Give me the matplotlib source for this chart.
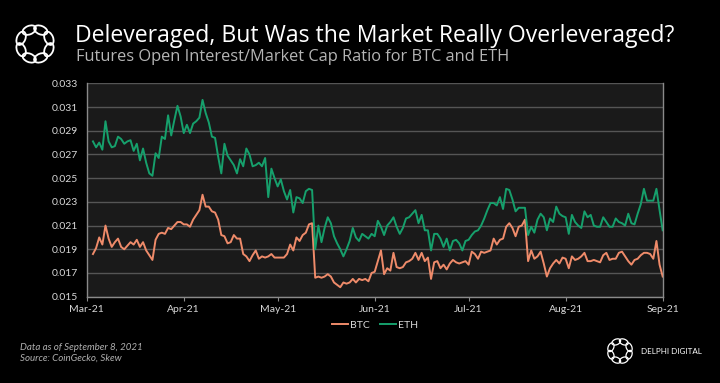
import matplotlib
matplotlib.use("Agg")
import matplotlib.pyplot as plt
import matplotlib.dates as mdates
from matplotlib.patches import Ellipse
import numpy as np
import pandas as pd

start_date = "2021-03-03"
end_date = "2021-09-01"

eth = [
    0.0281, 0.0276, 0.0280, 0.0274, 0.0298, 0.0281, 0.0276, 0.0277, 0.0285, 0.0283,
    0.0279, 0.0281, 0.0282, 0.0273, 0.0279, 0.0265, 0.0275, 0.0263, 0.0254, 0.0252,
    0.0271, 0.0267, 0.0285, 0.0283, 0.0303, 0.0286, 0.0299, 0.0311, 0.0302, 0.0288,
    0.0295, 0.0288, 0.0296, 0.0298, 0.0301, 0.0316, 0.0305, 0.0297, 0.0285, 0.0284,
    0.0268, 0.0254, 0.0279, 0.0269, 0.0265, 0.0261, 0.0254, 0.0266, 0.0260, 0.0275,
    0.0270, 0.0260, 0.0261, 0.0263, 0.0260, 0.0267, 0.0234, 0.0258, 0.0250, 0.0243,
    0.0249, 0.0239, 0.0232, 0.0240, 0.0221, 0.0234, 0.0233, 0.0229, 0.0239, 0.0241,
    0.0240, 0.0190, 0.0210, 0.0196, 0.0208, 0.0217, 0.0212, 0.0201, 0.0195, 0.0190,
    0.0184, 0.0190, 0.0197, 0.0208, 0.0200, 0.0197, 0.0203, 0.0201, 0.0199, 0.0203,
    0.0201, 0.0214, 0.0209, 0.0202, 0.0210, 0.0213, 0.0217, 0.0209, 0.0203, 0.0208,
    0.0216, 0.0217, 0.0220, 0.0223, 0.0212, 0.0219, 0.0206, 0.0206, 0.0189, 0.0203,
    0.0203, 0.0199, 0.0192, 0.0199, 0.0189, 0.0197, 0.0198, 0.0195, 0.0189, 0.0197,
    0.0198, 0.0202, 0.0205, 0.0206, 0.0210, 0.0216, 0.0223, 0.0229, 0.0229, 0.0227,
    0.0234, 0.0224, 0.0241, 0.0240, 0.0232, 0.0222, 0.0225, 0.0225, 0.0225, 0.0202,
    0.0209, 0.0204, 0.0215, 0.0220, 0.0217, 0.0206, 0.0216, 0.0213, 0.0226, 0.0220,
    0.0218, 0.0217, 0.0203, 0.0219, 0.0213, 0.0210, 0.0208, 0.0222, 0.0217, 0.0219,
    0.0210, 0.0209, 0.0209, 0.0217, 0.0213, 0.0209, 0.0209, 0.0216, 0.0213, 0.0212,
    0.0210, 0.0220, 0.0212, 0.0211, 0.0220, 0.0228, 0.0241, 0.0231, 0.0231, 0.0231,
    0.0241, 0.0223, 0.0206,
]

btc = [
    0.0186, 0.0191, 0.0200, 0.0194, 0.0210, 0.0199, 0.0192, 0.0196, 0.0199, 0.0192,
    0.0190, 0.0193, 0.0196, 0.0194, 0.0198, 0.0192, 0.0196, 0.0189, 0.0185, 0.0181,
    0.0198, 0.0203, 0.0204, 0.0203, 0.0208, 0.0207, 0.0210, 0.0213, 0.0213, 0.0211,
    0.0211, 0.0209, 0.0215, 0.0219, 0.0223, 0.0236, 0.0226, 0.0226, 0.0222, 0.0221,
    0.0215, 0.0202, 0.0201, 0.0195, 0.0196, 0.0202, 0.0199, 0.0199, 0.0186, 0.0184,
    0.0180, 0.0185, 0.0189, 0.0182, 0.0184, 0.0183, 0.0184, 0.0186, 0.0183, 0.0183,
    0.0183, 0.0183, 0.0186, 0.0194, 0.0189, 0.0200, 0.0197, 0.0202, 0.0204, 0.0211,
    0.0212, 0.0166, 0.0167, 0.0166, 0.0167, 0.0169, 0.0167, 0.0162, 0.0160, 0.0158,
    0.0162, 0.0161, 0.0162, 0.0165, 0.0162, 0.0165, 0.0164, 0.0165, 0.0163, 0.0170,
    0.0171, 0.0180, 0.0189, 0.0169, 0.0174, 0.0172, 0.0187, 0.0175, 0.0174, 0.0175,
    0.0179, 0.0180, 0.0182, 0.0187, 0.0181, 0.0187, 0.0180, 0.0183, 0.0165, 0.0179,
    0.0180, 0.0174, 0.0177, 0.0173, 0.0178, 0.0181, 0.0179, 0.0178, 0.0179, 0.0180,
    0.0177, 0.0188, 0.0186, 0.0182, 0.0188, 0.0187, 0.0188, 0.0189, 0.0199, 0.0194,
    0.0198, 0.0199, 0.0209, 0.0212, 0.0208, 0.0201, 0.0209, 0.0210, 0.0215, 0.0180,
    0.0189, 0.0182, 0.0184, 0.0188, 0.0178, 0.0167, 0.0174, 0.0178, 0.0181, 0.0178,
    0.0183, 0.0182, 0.0174, 0.0184, 0.0181, 0.0182, 0.0184, 0.0187, 0.0180, 0.0180,
    0.0181, 0.0180, 0.0179, 0.0185, 0.0187, 0.0181, 0.0182, 0.0182, 0.0187, 0.0188,
    0.0184, 0.0180, 0.0177, 0.0181, 0.0182, 0.0185, 0.0187, 0.0187, 0.0186, 0.0182,
    0.0197, 0.0177, 0.0167,
]

y_ticks = [0.015, 0.017, 0.019, 0.021, 0.023, 0.025, 0.027, 0.029, 0.031, 0.033]
x_ticks = ["2021-03-01", "2021-04-01", "2021-05-01", "2021-06-01",
           "2021-07-01", "2021-08-01", "2021-09-01"]

title = "Deleveraged, But Was the Market Really Overleveraged?"
subtitle = "Futures Open Interest/Market Cap Ratio for BTC and ETH"
foot1 = "Data as of September 8, 2021"
foot2 = "Source: CoinGecko, Skew"

BTC_C = "#EF8B6A"
ETH_C = "#16A06C"
FONT = ["Lato", "DejaVu Sans"]
HFONT = ["Open Sans", "DejaVu Sans"]

dates = pd.date_range(start_date, end_date, freq="D")

W, H = 720, 383
fig = plt.figure(figsize=(W / 100, H / 100), dpi=100, facecolor="black")

ax = fig.add_axes([86.7 / W, 1 - 296.7 / H, (662.7 - 86.7) / W, (296.7 - 83.3) / H])
ax.set_facecolor("#1a1a1a")
ax.plot(dates, btc, color=BTC_C, lw=1.4, label="BTC")
ax.plot(dates, eth, color=ETH_C, lw=1.4, label="ETH")

ax.set_ylim(0.015, 0.033)
ax.set_yticks(y_ticks)
ax.set_yticklabels([f"{v:.3f}" for v in y_ticks])
ax.set_xlim(pd.Timestamp(x_ticks[0]), pd.Timestamp(x_ticks[-1]))
ax.set_xticks([pd.Timestamp(t) for t in x_ticks])
ax.xaxis.set_major_formatter(mdates.DateFormatter("%b-%y"))

ax.grid(axis="y", color="#555555", lw=1.0)
ax.set_axisbelow(True)
for s in ["left", "right", "bottom"]:
    ax.spines[s].set_color("#8a8a8a")
    ax.spines[s].set_linewidth(1.0)
ax.spines["top"].set_visible(False)
ax.tick_params(axis="y", length=0, pad=6, labelsize=7.5, labelcolor="#d8d8d8")
ax.tick_params(axis="x", length=3, color="#8a8a8a", pad=3, labelsize=7.5, labelcolor="#d8d8d8")
for lab in ax.get_xticklabels() + ax.get_yticklabels():
    lab.set_family(FONT)

leg = fig.legend(loc="center", bbox_to_anchor=(375 / W, 1 - 325 / H), ncol=2,
                 frameon=False, handlelength=1.6, handletextpad=0.2, columnspacing=0.9,
                 prop={"family": FONT, "size": 7.5})
for t in leg.get_texts():
    t.set_color("#d8d8d8")

fig.text(75 / W, 1 - 36 / H, title, color="white", fontsize=16.6, family=HFONT,
         va="center", ha="left")
fig.text(76 / W, 1 - 57 / H, subtitle, color="#b5b5b5", fontsize=11.8, family=HFONT,
         va="center", ha="left")
fig.text(20 / W, 1 - 347 / H, foot1, color="#b0b0b0", fontsize=7, family=FONT,
         style="italic", va="center", ha="left")
fig.text(20 / W, 1 - 358 / H, foot2, color="#b0b0b0", fontsize=7, family=FONT,
         style="italic", va="center", ha="left")
fig.text(641 / W, 1 - 351 / H, "DELPHI DIGITAL", color="white", fontsize=5.8, family=FONT,
         va="center", ha="left")

# logos on an overlay in pixel coordinates
ov = fig.add_axes([0, 0, 1, 1], facecolor="none")
ov.set_xlim(0, W)
ov.set_ylim(H, 0)
ov.set_aspect("equal")
ov.axis("off")


def logo(cx, cy, R, w, h, lw):
    for k in range(8):
        a = np.pi / 8 + k * np.pi / 4
        ov.add_patch(Ellipse((cx + R * np.cos(a), cy + R * np.sin(a)), w, h,
                             angle=np.degrees(a) + 90, fill=False, ec="white", lw=lw))


logo(35, 44, 15.0, 14.0, 8.5, 1.3)
logo(620, 351, 9.8, 9.2, 5.6, 0.9)

fig.savefig("out.png", dpi=100, facecolor="black")
